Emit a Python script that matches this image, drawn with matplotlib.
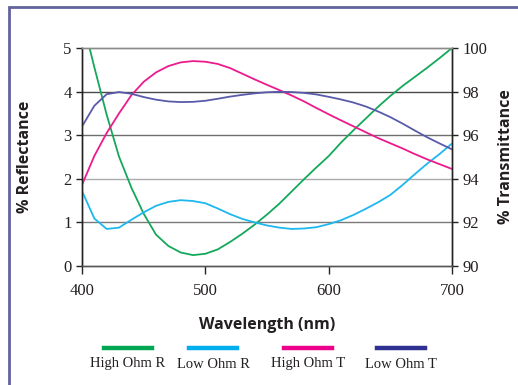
import matplotlib
matplotlib.use("Agg")
from matplotlib import pyplot as plt
from matplotlib.lines import Line2D
from matplotlib.patches import Rectangle

# wavelength grid (nm)
wavelength = [400, 410, 420, 430, 440, 450, 460, 470, 480, 490, 500,
              510, 520, 530, 540, 550, 560, 570, 580, 590, 600,
              610, 620, 630, 640, 650, 660, 670, 680, 690, 700]

# % reflectance (left axis)
high_ohm_r = [5.70, 4.56, 3.47, 2.51, 1.80, 1.20, 0.72, 0.46, 0.31, 0.25, 0.28,
              0.38, 0.55, 0.74, 0.95, 1.18, 1.43, 1.71, 1.99, 2.26, 2.52,
              2.83, 3.11, 3.38, 3.65, 3.90, 4.13, 4.34, 4.55, 4.77, 5.00]
low_ohm_r = [1.72, 1.09, 0.85, 0.88, 1.06, 1.23, 1.38, 1.47, 1.51, 1.49, 1.44,
             1.32, 1.19, 1.08, 1.00, 0.93, 0.88, 0.85, 0.86, 0.89, 0.96,
             1.05, 1.17, 1.31, 1.46, 1.63, 1.86, 2.11, 2.35, 2.57, 2.81]

# % transmittance (right axis)
high_ohm_t = [93.72, 95.05, 96.10, 97.00, 97.83, 98.45, 98.88, 99.17, 99.34, 99.40, 99.37,
              99.27, 99.08, 98.82, 98.56, 98.31, 98.07, 97.82, 97.55, 97.25, 96.96,
              96.68, 96.41, 96.14, 95.87, 95.63, 95.39, 95.13, 94.89, 94.67, 94.45]
low_ohm_t = [96.40, 97.35, 97.88, 97.98, 97.90, 97.75, 97.63, 97.55, 97.52, 97.53, 97.58,
             97.67, 97.77, 97.85, 97.92, 97.97, 97.99, 97.98, 97.94, 97.87, 97.76,
             97.64, 97.50, 97.32, 97.09, 96.83, 96.53, 96.21, 95.90, 95.62, 95.35]

names = ["High Ohm R", "Low Ohm R", "High Ohm T", "Low Ohm T"]
line_colors = ["#14a85a", "#1cb8ef", "#ec1a8c", "#5a5aaa"]
legend_colors = ["#00a651", "#00aeef", "#ec008c", "#2e3192"]

serif = "Liberation Serif"
sans = "Open Sans"
txt = "#231f20"

fig = plt.figure(figsize=(5.18, 3.85), dpi=100)
ax = fig.add_axes([82/518, 1-266/385, 370/518, 218/385])
ax2 = ax.twinx()

# horizontal grid
grid_cols = {1: "#7a7a7a", 2: "#ababab", 3: "#6e6e6e", 4: "#4a4a4a"}
for yv, c in grid_cols.items():
    ax.axhline(yv, color=c, lw=1.0, zorder=0)

ax.plot(wavelength, high_ohm_r, color=line_colors[0], lw=1.3, zorder=3)
ax.plot(wavelength, low_ohm_r, color=line_colors[1], lw=1.3, zorder=3)
ax2.plot(wavelength, high_ohm_t, color=line_colors[2], lw=1.3)
ax2.plot(wavelength, low_ohm_t, color=line_colors[3], lw=1.3)

ax.set_xlim(400, 700)
ax.set_ylim(0, 5)
ax2.set_ylim(90, 100)
ax.set_xticks([400, 500, 600, 700])
ax.set_yticks([0, 1, 2, 3, 4, 5])
ax2.set_yticks([90, 92, 94, 96, 98, 100])

for a in (ax, ax2):
    for s in a.spines.values():
        s.set_linewidth(1.0)
    a.spines["top"].set_color("#8a8a8a")
    a.spines["bottom"].set_color("#555555")
    a.spines["left"].set_color("#222222")
    a.spines["right"].set_color("#222222")
    a.tick_params(direction="out", length=4, width=1, color="#222222",
                  labelsize=12, labelcolor=txt)
    for lab in a.get_xticklabels() + a.get_yticklabels():
        lab.set_fontfamily(serif)
ax.tick_params(axis="x", length=6, pad=6)

ax.set_xlabel("Wavelength (nm)", fontsize=11.5, fontweight="bold", family=sans, color=txt)
ax.set_ylabel("% Reflectance", fontsize=11.5, fontweight="bold", family=sans, color=txt)
ax2.set_ylabel("% Transmittance", fontsize=11.5, fontweight="bold", family=sans, color=txt,
               rotation=90)
ax.xaxis.set_label_coords(0.5, -0.235)
ax.yaxis.set_label_coords(-0.132, 0.5)
ax2.yaxis.set_label_coords(1.124, 0.5)

# legend: line above each name
centers = [128, 213, 308, 401]
for name, col, cx in zip(names, legend_colors, centers):
    fig.add_artist(Line2D([(cx-24)/518, (cx+24)/518], [1-348/385, 1-348/385],
                          color=col, lw=3.2, transform=fig.transFigure))
    fig.text(cx/518, 1-364/385, name, ha="center", va="center",
             fontsize=10.5, family=serif, color=txt)

# frame around the figure
fig.add_artist(Rectangle((9/518, -0.2), 1.2, 1.2 - 7/385, transform=fig.transFigure,
                         fill=False, edgecolor="#62629f", lw=2.0))

fig.savefig("out.png", dpi=100)
